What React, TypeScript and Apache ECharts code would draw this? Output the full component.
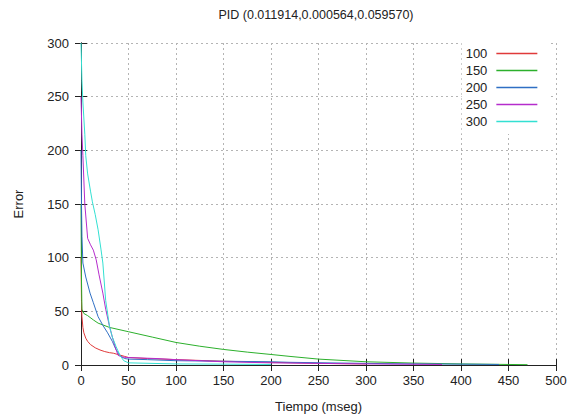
import React, { useEffect, useRef } from "react";
import * as echarts from "echarts";

const titleText = "PID (0.011914,0.000564,0.059570)";
const seriesNames = ["100", "150", "200", "250", "300"];
const seriesColors = ["#e03a3a", "#2cb02c", "#2f6fc4", "#b52ccc", "#33e0d2"];

const t100 = [0, 0.5, 1, 2, 3, 5, 7, 10, 15, 20, 25, 30, 34, 38, 42, 46, 50, 70, 100, 150, 200, 250, 300];
const e100 = [100, 60, 45, 35, 30, 25, 22, 19, 16, 14, 12.5, 11.5, 11, 10, 9, 8, 7, 6, 5, 3.5, 2.5, 1.5, 1];

const t150 = [0, 0.5, 1, 3, 7, 13, 18, 30, 50, 75, 100, 125, 150, 175, 200, 220, 250, 300, 350, 400, 450, 470];
const e150 = [150, 80, 52, 48, 46, 42, 39, 35, 31, 26, 21, 17.5, 14.5, 12, 9.8, 8, 5.5, 3, 1.8, 1, 0.5, 0.3];

const t200 = [0, 0.5, 1, 2, 5, 9.5, 13, 18, 23, 28, 33, 37, 42, 46, 50, 70, 100, 150, 200, 220, 300, 350, 400, 440];
const e200 = [200, 150, 120, 95, 82, 67, 58, 45, 37, 30, 22, 14, 8, 6, 5.5, 5, 4, 3.5, 3, 2.5, 1.5, 1, 0.8, 0.5];

const t250 = [0, 1, 2, 4, 7, 10, 13, 16, 19, 23, 26, 30, 33, 36, 39, 43, 48, 80, 100, 150, 200, 300, 380];
const e250 = [250, 215, 195, 150, 118, 112, 107, 98, 84, 67, 52, 36, 26, 17, 9, 7.5, 7, 6, 5, 3, 2, 1, 0.5];

const t300 = [0, 1, 2, 4, 5, 7, 10, 12, 15, 18, 21, 23, 26, 30, 33, 37, 41, 45, 50, 100, 150, 200];
const e300 = [300, 265, 245, 215, 195, 178, 162, 152, 140, 126, 108, 95, 60, 36, 26, 17, 9, 4, 2, 1, 0.8, 0.5];

const times = [t100, t150, t200, t250, t300];
const errors = [e100, e150, e200, e250, e300];

const xTitle = "Tiempo (mseg)";
const yTitle = "Error";

const FONT = "Liberation Sans, Arial, sans-serif";
const TEXT = "#222";

export default function App() {
  const ref = useRef<HTMLDivElement>(null);
  useEffect(() => {
    if (!ref.current) return;
    const chart = echarts.init(ref.current, undefined, { renderer: "svg" });
    const axisLine = { show: true, lineStyle: { color: "#222", width: 1 } };
    const tick = { show: true, inside: true, length: 6, lineStyle: { color: "#222" } };
    const split = { show: true, lineStyle: { color: "#b4b4b4", type: [2, 3] as any, width: 1 } };
    chart.setOption({
      animation: false,
      backgroundColor: "#fff",
      color: seriesColors,
      textStyle: { fontFamily: FONT },
      graphic: [
        {
          type: "text",
          x: 316,
          y: 15,
          style: {
            text: titleText,
            fontSize: 12.5,
            fill: TEXT,
            fontFamily: FONT,
            align: "center",
            verticalAlign: "middle",
          },
        },
        {
          type: "text",
          x: 18,
          y: 204,
          rotation: Math.PI / 2,
          style: {
            text: yTitle,
            fontSize: 13,
            fill: TEXT,
            fontFamily: FONT,
            align: "center",
            verticalAlign: "middle",
          },
        },
      ],
      grid: { left: 81, top: 43, right: 11, bottom: 50, containLabel: false, outerBoundsMode: "none" },
      legend: {
        orient: "vertical",
        right: 16,
        top: 41,
        align: "right",
        itemWidth: 41,
        itemHeight: 12,
        itemGap: 0,
        padding: [4, 13, 4, 4],
        backgroundColor: "#fff",
        itemStyle: { opacity: 0 },
        textStyle: { fontSize: 13, color: TEXT, fontFamily: FONT, lineHeight: 17, padding: [0, 4, 0, 0] },
        data: seriesNames.map((name, i) => ({
          name,
          lineStyle: { color: seriesColors[i], width: 1.3, opacity: 1 },
          itemStyle: { color: seriesColors[i], opacity: 0 },
        })),
      },
      xAxis: [
        {
          type: "value",
          min: 0,
          max: 500,
          interval: 50,
          position: "bottom",
          name: xTitle,
          nameLocation: "middle",
          nameGap: 35,
          nameTextStyle: { fontSize: 13, color: TEXT, fontFamily: FONT },
          axisLine,
          axisTick: tick,
          axisLabel: { fontSize: 13, color: TEXT, margin: 9, fontFamily: FONT },
          splitLine: split,
        },
        {
          type: "value",
          min: 0,
          max: 500,
          interval: 50,
          position: "top",
          axisLine,
          axisTick: tick,
          axisLabel: { show: false },
          splitLine: { show: false },
        },
      ],
      yAxis: [
        {
          type: "value",
          min: 0,
          max: 300,
          interval: 50,
          position: "left",
          axisLine,
          axisTick: tick,
          axisLabel: { fontSize: 13, color: TEXT, margin: 12, fontFamily: FONT },
          splitLine: split,
        },
        {
          type: "value",
          min: 0,
          max: 300,
          interval: 50,
          position: "right",
          axisLine,
          axisTick: tick,
          axisLabel: { show: false },
          splitLine: { show: false },
        },
      ],
      series: seriesNames.map((name, i) => ({
        name,
        type: "line",
        xAxisIndex: 0,
        yAxisIndex: 0,
        symbol: "none",
        data: times[i].map((t, j) => [t, errors[i][j]]),
        lineStyle: { width: 1, color: seriesColors[i] },
        itemStyle: { color: seriesColors[i] },
        z: 2 + i,
      })),
    });
    return () => chart.dispose();
  }, []);
  return <div ref={ref} style={{ width: 567, height: 415, position: "absolute", left: 0, top: 0 }} />;
}
